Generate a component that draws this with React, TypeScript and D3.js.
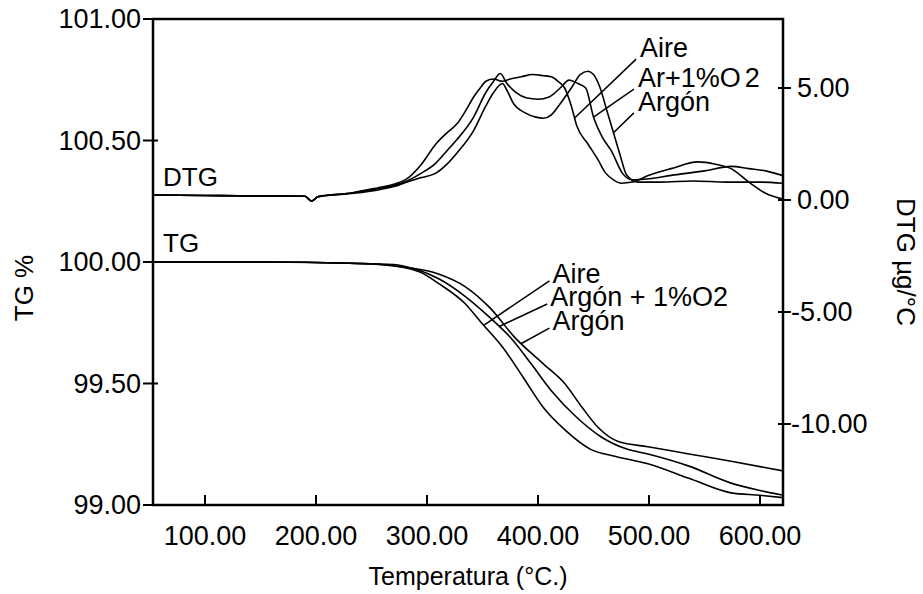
import React, { useRef, useEffect } from "react";
import * as d3 from "d3";

const W = 923;
const H = 594;

// axis ticks
const xTicks = [100, 200, 300, 400, 500, 600];
const tgTicks = [99, 99.5, 100, 100.5, 101];
const dtgTicks = [-10, -5, 0, 5];

// TG curves [temperature °C, TG %]
const tgAire = [[53, 100], [150, 100], [230, 99.995], [259, 99.99], [293, 99.96], [311, 99.91], [334, 99.83], [349, 99.75], [368, 99.65], [386, 99.53], [405, 99.4], [424, 99.31], [447, 99.23], [470, 99.2], [499, 99.17], [536, 99.11], [574, 99.05], [600, 99.04], [621, 99.03]];
const tgArO2 = [[53, 100], [150, 100], [230, 99.995], [270, 99.99], [290, 99.97], [311, 99.93], [334, 99.86], [357, 99.77], [375, 99.69], [394, 99.58], [412, 99.47], [435, 99.36], [457, 99.28], [480, 99.23], [499, 99.21], [536, 99.16], [574, 99.09], [600, 99.06], [621, 99.04]];
const tgArgon = [[53, 100], [150, 100], [230, 99.995], [278, 99.98], [311, 99.95], [334, 99.9], [357, 99.81], [379, 99.69], [405, 99.58], [424, 99.5], [440, 99.4], [454, 99.32], [473, 99.26], [499, 99.24], [536, 99.21], [574, 99.18], [621, 99.14]];

// DTG curves [temperature °C, µg/°C]
const dtgAire = [[53, 0.22], [100, 0.2], [150, 0.18], [190, 0.17], [196, -0.05], [202, 0.15], [230, 0.3], [256, 0.55], [270, 0.7], [282, 0.95], [295, 1.6], [308, 2.5], [318, 3.0], [327, 3.4], [335, 4.0], [342, 4.6], [348, 5.0], [353, 5.3], [360, 5.4], [368, 5.3], [375, 5.4], [385, 5.5], [395, 5.6], [405, 5.55], [412, 5.5], [418, 5.3], [424, 5.0], [430, 4.2], [435, 3.3], [445, 2.5], [454, 1.8], [461, 1.2], [468, 0.9], [475, 0.75], [485, 0.8], [500, 1.1], [520, 1.4], [544, 1.7], [560, 1.6], [574, 1.4], [590, 0.8], [605, 0.3], [620, 0.05]];
const dtgArO2 = [[53, 0.22], [100, 0.2], [150, 0.18], [190, 0.17], [196, -0.05], [202, 0.15], [230, 0.3], [256, 0.5], [270, 0.65], [282, 0.85], [295, 1.2], [308, 1.65], [318, 2.2], [327, 2.7], [342, 3.7], [353, 4.8], [360, 5.3], [366, 5.65], [372, 5.2], [380, 4.8], [390, 4.55], [400, 4.5], [410, 4.6], [420, 5.0], [428, 5.35], [436, 5.2], [443, 5.0], [450, 3.7], [458, 2.8], [466, 2.2], [476, 1.2], [485, 0.9], [500, 0.95], [520, 1.1], [550, 1.3], [574, 1.5], [590, 1.4], [605, 1.3], [620, 1.1]];
const dtgArgon = [[53, 0.22], [100, 0.2], [150, 0.18], [190, 0.17], [196, -0.05], [202, 0.15], [230, 0.28], [256, 0.45], [270, 0.6], [282, 0.8], [295, 1.0], [308, 1.2], [318, 1.6], [327, 2.1], [342, 3.1], [353, 4.2], [360, 4.8], [368, 5.2], [372, 4.9], [378, 4.3], [388, 3.9], [398, 3.7], [405, 3.65], [412, 3.8], [420, 4.3], [430, 5.0], [438, 5.6], [445, 5.75], [450, 5.6], [456, 5.0], [462, 4.0], [468, 3.0], [474, 2.0], [480, 1.1], [490, 0.8], [510, 0.8], [540, 0.85], [570, 0.8], [600, 0.8], [620, 0.75]];

// labels: [text, label T, label value, curve T the leader points to]
const dtgLabels = [["Aire", 492, 6.38, 433], ["Ar+1%O2", 490, 5.04, 450], ["Argón", 490, 3.98, 468]];
const tgLabels = [["Aire", 413, 99.914, 351], ["Argón + 1%O2", 411, 99.819, 365], ["Argón", 413, 99.72, 385]];

const FONT = "'Liberation Sans', Arial, sans-serif";
const fmt = v => d3.format(".2f")(v).replace("−", "-");

const valueAt = (s, t) => {
  const i = d3.bisector(d => d[0]).left(s, t);
  if (i <= 0) return s[0][1];
  if (i >= s.length) return s[s.length - 1][1];
  const [t0, v0] = s[i - 1], [t1, v1] = s[i];
  return v0 + (v1 - v0) * (t - t0) / (t1 - t0);
};

const App = () => {
  const ref = useRef(null);

  useEffect(() => {
    const svg = d3.select(ref.current);
    svg.selectAll("*").remove();

    const L = 153, R = 783, T = 19, B = 505;
    const x = d3.scaleLinear().domain([100, 600]).range([205, 760]);
    const yTG = d3.scaleLinear().domain([99, 101]).range([B, T]);
    const yDTG = d3.scaleLinear().domain([-10, 5]).range([424, 88]);

    const g = svg.append("g").style("font-family", FONT);

    // curves
    const lineTG = d3.line().x(d => x(d[0])).y(d => yTG(d[1])).curve(d3.curveMonotoneX);
    const lineDTG = d3.line().x(d => x(d[0])).y(d => yDTG(d[1])).curve(d3.curveMonotoneX);
    const clip = svg.append("clipPath").attr("id", "plot");
    clip.append("rect").attr("x", L).attr("y", T).attr("width", R - L).attr("height", B - T);
    const curves = g.append("g").attr("clip-path", "url(#plot)")
      .attr("fill", "none").attr("stroke", "#000").attr("stroke-width", 1.6);
    [tgAire, tgArO2, tgArgon].forEach(s => curves.append("path").attr("d", lineTG(s)));
    [dtgAire, dtgArO2, dtgArgon].forEach(s => curves.append("path").attr("d", lineDTG(s)));

    // leaders and labels
    const dtgSeries = [dtgAire, dtgArO2, dtgArgon];
    dtgLabels.forEach((l, i) => {
      const lx = x(l[1]), ly = yDTG(l[2]);
      g.append("line").attr("x1", lx - 4).attr("y1", ly + 2)
        .attr("x2", x(l[3])).attr("y2", yDTG(valueAt(dtgSeries[i], l[3])))
        .attr("stroke", "#000").attr("stroke-width", 1.5);
      const t = g.append("text").attr("x", lx).attr("y", ly).attr("font-size", 27);
      if (l[0] === "Ar+1%O2") {
        t.text("Ar+1%O");
        t.append("tspan").attr("dx", 4).text("2");
      } else t.text(l[0]);
    });
    const tgSeries = [tgAire, tgArO2, tgArgon];
    tgLabels.forEach((l, i) => {
      const lx = x(l[1]), ly = yTG(l[2]);
      g.append("line").attr("x1", lx - 3).attr("y1", ly - 2)
        .attr("x2", x(l[3])).attr("y2", yTG(valueAt(tgSeries[i], l[3])))
        .attr("stroke", "#000").attr("stroke-width", 1.5);
      g.append("text").attr("x", lx).attr("y", ly).attr("font-size", 27).text(l[0]);
    });

    g.append("text").attr("x", L + 10).attr("y", 186).attr("font-size", 26).text("DTG");
    g.append("text").attr("x", L + 10).attr("y", 252).attr("font-size", 26).text("TG");

    // frame
    g.append("rect").attr("x", L).attr("y", T).attr("width", R - L).attr("height", B - T)
      .attr("fill", "none").attr("stroke", "#000").attr("stroke-width", 2.5);

    // left axis
    const left = g.append("g");
    tgTicks.forEach(v => {
      left.append("line").attr("x1", L - 10).attr("x2", L + 5).attr("y1", yTG(v)).attr("y2", yTG(v))
        .attr("stroke", "#000").attr("stroke-width", 2);
      left.append("text").attr("x", L - 12).attr("y", yTG(v)).attr("dy", "0.35em")
        .attr("text-anchor", "end").attr("font-size", 27).text(fmt(v));
    });

    // right axis
    const right = g.append("g");
    dtgTicks.forEach(v => {
      right.append("line").attr("x1", R - 5).attr("x2", R + 8).attr("y1", yDTG(v)).attr("y2", yDTG(v))
        .attr("stroke", "#000").attr("stroke-width", 2);
      right.append("text").attr("x", v < 0 ? R + 8 : R + 14).attr("y", yDTG(v)).attr("dy", "0.35em")
        .attr("font-size", 27).text(fmt(v));
    });

    // bottom axis
    const bottom = g.append("g");
    xTicks.forEach(v => {
      bottom.append("line").attr("x1", x(v)).attr("x2", x(v)).attr("y1", B).attr("y2", B - 10)
        .attr("stroke", "#000").attr("stroke-width", 2);
      bottom.append("text").attr("x", x(v)).attr("y", 545)
        .attr("text-anchor", "middle").attr("font-size", 27).text(fmt(v));
    });

    // axis titles
    g.append("text").attr("x", 468).attr("y", 585).attr("text-anchor", "middle")
      .attr("font-size", 25).text("Temperatura (°C.)");
    g.append("text").attr("transform", "translate(33,288) rotate(-90)").attr("text-anchor", "middle")
      .attr("font-size", 26).text("TG %");
    g.append("text").attr("transform", "translate(897,262) rotate(90)").attr("text-anchor", "middle")
      .attr("font-size", 26).text("DTG µg/°C");
  }, []);

  return (
    <div style={{ position: "absolute", left: 0, top: 0 }}>
      <svg ref={ref} width={W} height={H} style={{ display: "block", background: "#fff" }} />
    </div>
  );
};

export default App;
